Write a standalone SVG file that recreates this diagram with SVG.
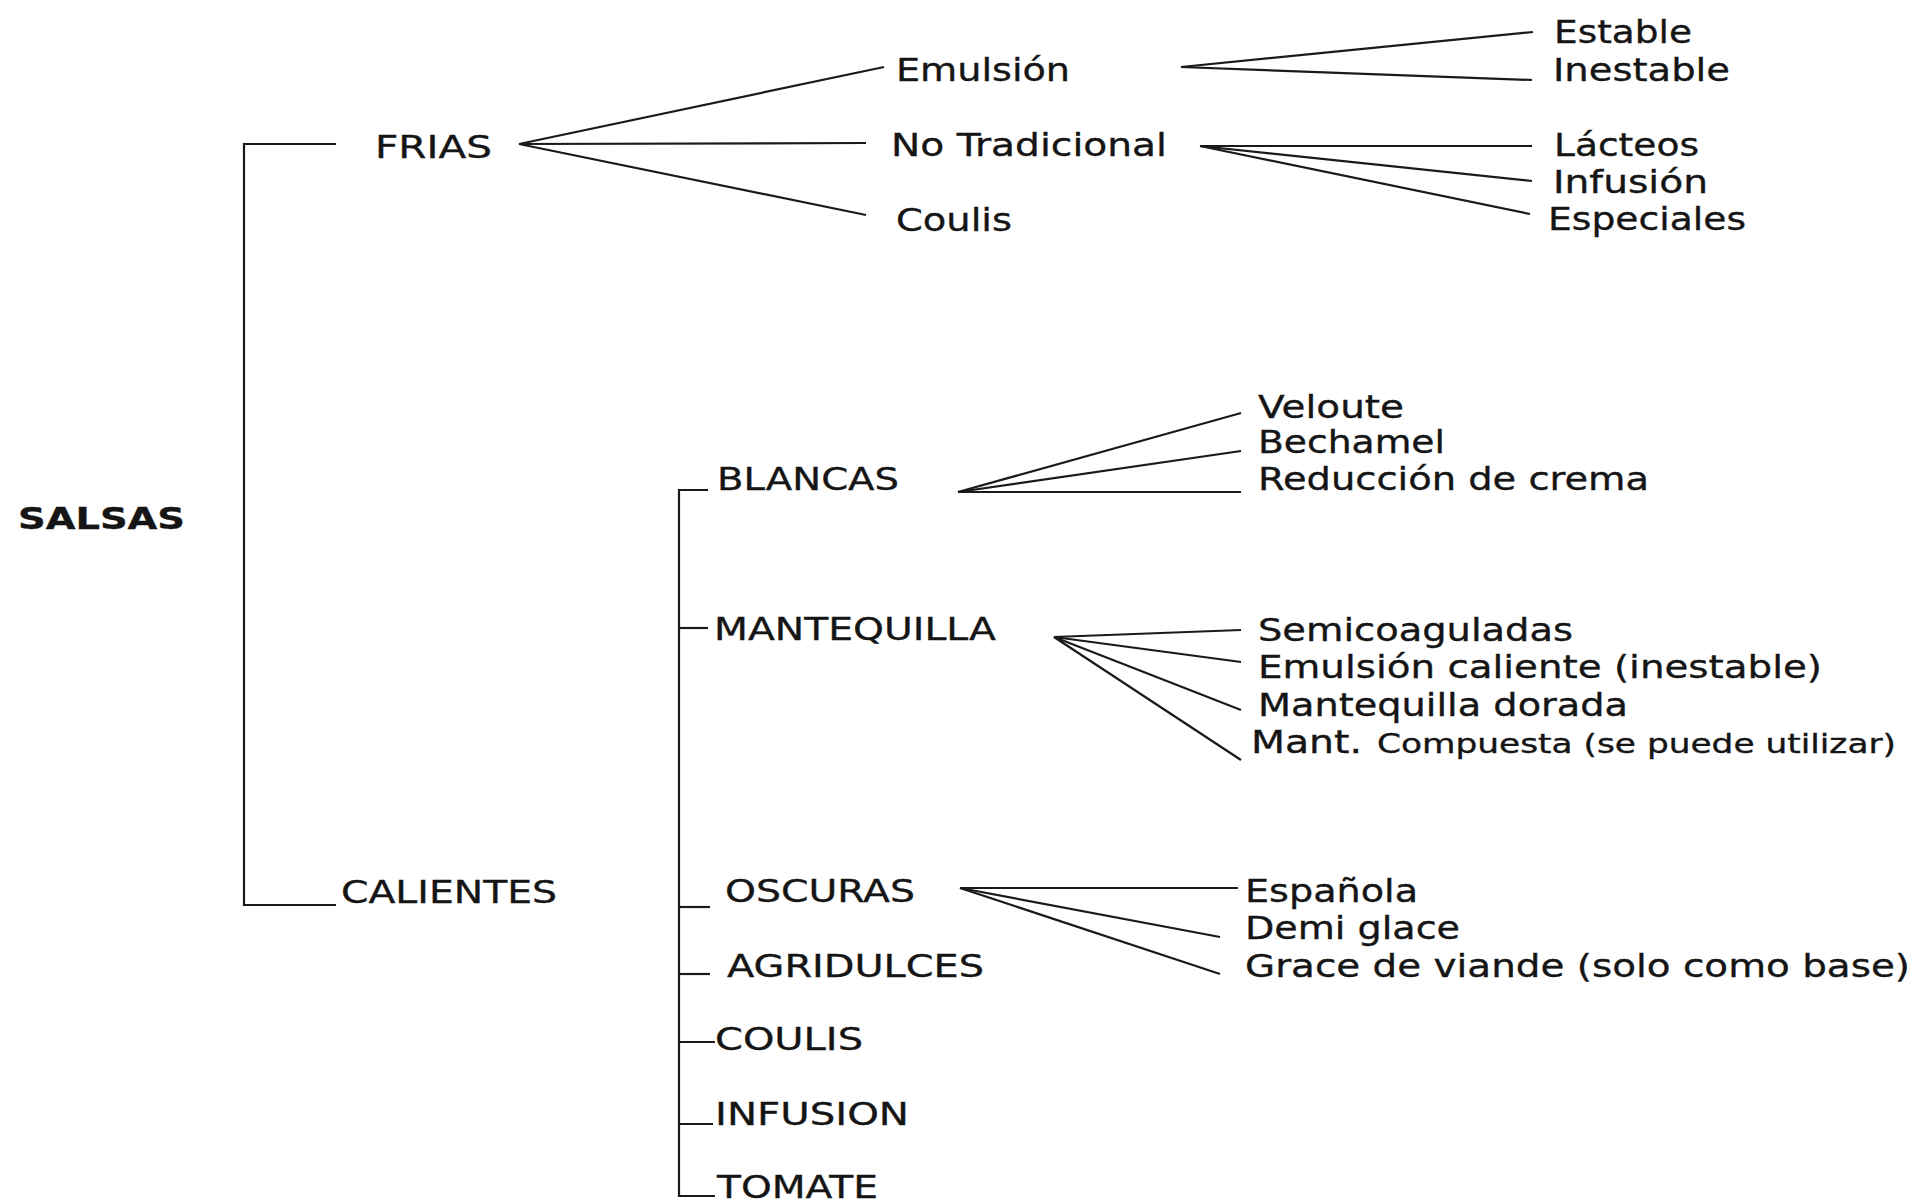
<svg xmlns="http://www.w3.org/2000/svg" width="1916" height="1203" viewBox="0 0 1916 1203">
<style>
text{font-family:"DejaVu Sans","Liberation Sans",sans-serif;font-size:32px;fill:#151515;stroke:#151515;stroke-width:0.35}
.b{font-weight:bold;font-size:31px}
.s{font-size:26px}
#connectors line,#connectors polyline{stroke:#1a1a1a;stroke-width:2.2;fill:none}
</style>
<rect width="1916" height="1203" fill="#fff"/>
<g id="connectors">
<polyline points="336,144 244,144 244,905 336,905"/>
<line x1="519" y1="144" x2="884" y2="67"/>
<line x1="519" y1="144" x2="866" y2="143"/>
<line x1="519" y1="144" x2="866" y2="215"/>
<line x1="1181" y1="67" x2="1533" y2="32"/>
<line x1="1181" y1="67" x2="1532" y2="80"/>
<line x1="1200" y1="146" x2="1532" y2="146"/>
<line x1="1200" y1="146" x2="1532" y2="181"/>
<line x1="1200" y1="146" x2="1530" y2="214"/>
<polyline points="708,490 679,490 679,1196 715,1196"/>
<line x1="679" y1="628" x2="708" y2="628"/>
<line x1="679" y1="907" x2="710" y2="907"/>
<line x1="679" y1="974" x2="710" y2="974"/>
<line x1="679" y1="1042" x2="715" y2="1042"/>
<line x1="679" y1="1124" x2="713" y2="1124"/>
<line x1="958" y1="492" x2="1241" y2="413"/>
<line x1="958" y1="492" x2="1241" y2="451"/>
<line x1="958" y1="492" x2="1241" y2="492"/>
<line x1="1054" y1="637" x2="1241" y2="630"/>
<line x1="1054" y1="637" x2="1241" y2="662"/>
<line x1="1054" y1="637" x2="1241" y2="710"/>
<line x1="1054" y1="637" x2="1241" y2="760"/>
<line x1="960" y1="888" x2="1238" y2="888"/>
<line x1="960" y1="888" x2="1220" y2="937"/>
<line x1="960" y1="888" x2="1220" y2="974"/>
</g>
<g id="salsas"><text class="b" x="18" y="529" textLength="167" lengthAdjust="spacingAndGlyphs">SALSAS</text></g>
<g id="frias"><text x="375" y="158" textLength="117" lengthAdjust="spacingAndGlyphs">FRIAS</text></g>
<g id="emulsion"><text x="896" y="81" textLength="174" lengthAdjust="spacingAndGlyphs">Emulsión</text></g>
<g id="no-tradicional"><text x="891" y="156" textLength="276" lengthAdjust="spacingAndGlyphs">No Tradicional</text></g>
<g id="coulis-frio"><text x="896" y="231" textLength="116" lengthAdjust="spacingAndGlyphs">Coulis</text></g>
<g id="estable"><text x="1554" y="43" textLength="138" lengthAdjust="spacingAndGlyphs">Estable</text></g>
<g id="inestable"><text x="1553" y="81" textLength="177" lengthAdjust="spacingAndGlyphs">Inestable</text></g>
<g id="lacteos"><text x="1554" y="156" textLength="145" lengthAdjust="spacingAndGlyphs">Lácteos</text></g>
<g id="infusion-fria"><text x="1553" y="193" textLength="155" lengthAdjust="spacingAndGlyphs">Infusión</text></g>
<g id="especiales"><text x="1548" y="230" textLength="198" lengthAdjust="spacingAndGlyphs">Especiales</text></g>
<g id="calientes"><text x="341" y="903" textLength="216" lengthAdjust="spacingAndGlyphs">CALIENTES</text></g>
<g id="blancas"><text x="717" y="490" textLength="182" lengthAdjust="spacingAndGlyphs">BLANCAS</text></g>
<g id="veloute"><text x="1258" y="418" textLength="146" lengthAdjust="spacingAndGlyphs">Veloute</text></g>
<g id="bechamel"><text x="1258" y="453" textLength="187" lengthAdjust="spacingAndGlyphs">Bechamel</text></g>
<g id="reduccion"><text x="1258" y="490" textLength="391" lengthAdjust="spacingAndGlyphs">Reducción de crema</text></g>
<g id="mantequilla"><text x="714" y="640" textLength="282" lengthAdjust="spacingAndGlyphs">MANTEQUILLA</text></g>
<g id="semicoaguladas"><text x="1258" y="641" textLength="315" lengthAdjust="spacingAndGlyphs">Semicoaguladas</text></g>
<g id="emulsion-caliente"><text x="1258" y="678" textLength="564" lengthAdjust="spacingAndGlyphs">Emulsión caliente (inestable)</text></g>
<g id="mantequilla-dorada"><text x="1258" y="716" textLength="370" lengthAdjust="spacingAndGlyphs">Mantequilla dorada</text></g>
<g id="mant-compuesta"><text x="1251" y="753" textLength="111" lengthAdjust="spacingAndGlyphs">Mant.</text><text class="s" x="1377" y="753" textLength="519" lengthAdjust="spacingAndGlyphs">Compuesta (se puede utilizar)</text></g>
<g id="oscuras"><text x="725" y="902" textLength="190" lengthAdjust="spacingAndGlyphs">OSCURAS</text></g>
<g id="espanola"><text x="1245" y="902" textLength="173" lengthAdjust="spacingAndGlyphs">Española</text></g>
<g id="demi-glace"><text x="1245" y="939" textLength="215" lengthAdjust="spacingAndGlyphs">Demi glace</text></g>
<g id="grace-de-viande"><text x="1245" y="977" textLength="665" lengthAdjust="spacingAndGlyphs">Grace de viande (solo como base)</text></g>
<g id="agridulces"><text x="727" y="977" textLength="257" lengthAdjust="spacingAndGlyphs">AGRIDULCES</text></g>
<g id="coulis"><text x="715" y="1050" textLength="148" lengthAdjust="spacingAndGlyphs">COULIS</text></g>
<g id="infusion"><text x="715" y="1125" textLength="194" lengthAdjust="spacingAndGlyphs">INFUSION</text></g>
<g id="tomate"><text x="717" y="1198" textLength="161" lengthAdjust="spacingAndGlyphs">TOMATE</text></g>
</svg>
